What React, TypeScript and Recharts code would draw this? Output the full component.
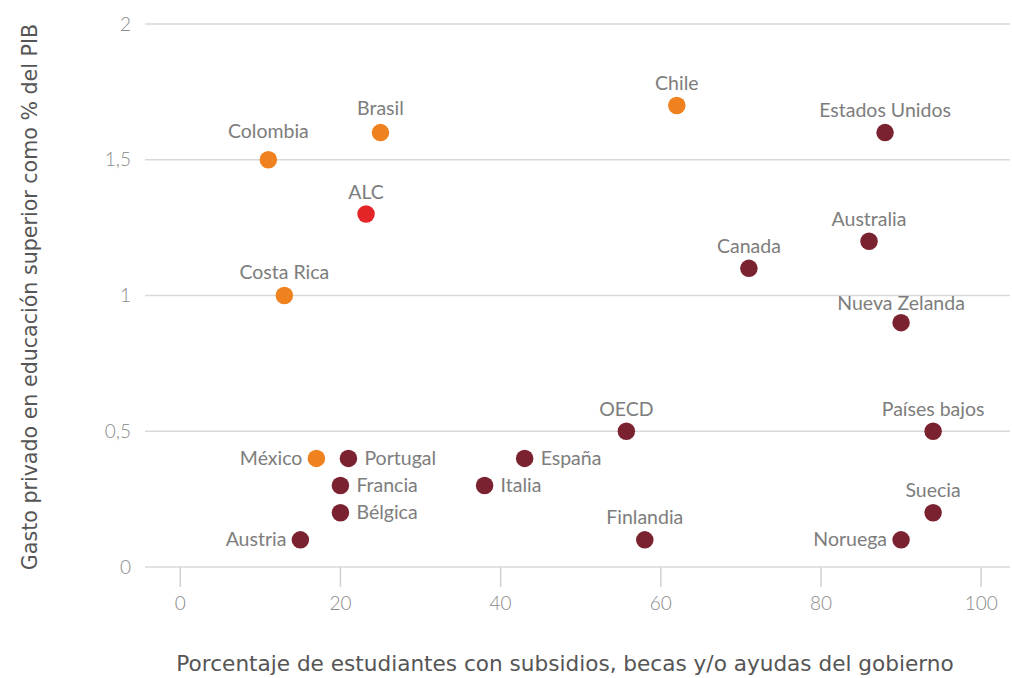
import React from 'react';
import { ScatterChart, Scatter, XAxis, YAxis, CartesianGrid, Cell } from 'recharts';

const countries = [
  'Colombia', 'Brasil', 'ALC', 'Costa Rica', 'Chile', 'Estados Unidos', 'Australia',
  'Canada', 'Nueva Zelanda', 'OECD', 'Países bajos', 'México', 'Portugal', 'España',
  'Francia', 'Italia', 'Bélgica', 'Austria', 'Finlandia', 'Suecia', 'Noruega',
];
const subsidyShare = [11, 25, 23.2, 13, 62, 88, 86, 71, 90, 55.7, 94, 17, 21, 43, 20, 38, 20, 15, 58, 94, 90];
const privateSpending = [1.5, 1.6, 1.3, 1.0, 1.7, 1.6, 1.2, 1.1, 0.9, 0.5, 0.5, 0.4, 0.4, 0.4, 0.3, 0.3, 0.2, 0.1, 0.1, 0.2, 0.1];
const groups = [
  'latam', 'latam', 'alc', 'latam', 'latam', 'oecd', 'oecd',
  'oecd', 'oecd', 'oecd', 'oecd', 'latam', 'oecd', 'oecd',
  'oecd', 'oecd', 'oecd', 'oecd', 'oecd', 'oecd', 'oecd',
];
const xTicks = [0, 20, 40, 60, 80, 100];
const yTicks = [0, 0.5, 1, 1.5, 2];

const xTitle = 'Porcentaje de estudiantes con subsidios, becas y/o ayudas del gobierno';
const yTitle = 'Gasto privado en educación superior como % del PIB';

const groupColors: Record<string, string> = {
  latam: '#F0811F',
  alc: '#E42527',
  oecd: '#7B2230',
};

const labelSide: Record<string, string> = {
  'México': 'left',
  Austria: 'left',
  Noruega: 'left',
  Portugal: 'right',
  'España': 'right',
  Francia: 'right',
  Italia: 'right',
  'Bélgica': 'right',
};

// distance of the label baseline above the dot centre, for labels placed on top
const labelLift: Record<string, number> = {
  Colombia: 22,
  Brasil: 18,
  'Costa Rica': 17,
  'Nueva Zelanda': 13,
};

const data = countries.map((name, i) => ({
  name,
  x: subsidyShare[i],
  y: privateSpending[i],
  group: groups[i],
}));

const LABEL_FONT = 'Lato, "Open Sans", sans-serif';
const TITLE_FONT = '"DejaVu Sans", "Open Sans", sans-serif';

const Dot = (props: any) => {
  const { cx, cy, payload } = props;
  const side = labelSide[payload.name] || 'top';
  const color = groupColors[payload.group];
  let tx = cx;
  let ty = cy - (labelLift[payload.name] ?? 15.5);
  let anchor: 'start' | 'middle' | 'end' = 'middle';
  if (side === 'left') {
    tx = cx - 14;
    ty = cy + 6.5;
    anchor = 'end';
  } else if (side === 'right') {
    tx = cx + 16;
    ty = cy + 6.5;
    anchor = 'start';
  }
  return (
    <g>
      <circle cx={cx} cy={cy} r={8.75} fill={color} />
      <text x={tx} y={ty} textAnchor={anchor} fill="#7d7d7d" fontSize={19.5} fontFamily={LABEL_FONT}>
        {payload.name}
      </text>
    </g>
  );
};

const fmt = (v: number) => String(v).replace('.', ',');

export default function App() {
  return (
    <div style={{ position: 'absolute', left: 0, top: 0, background: '#fff' }}>
      <ScatterChart width={1012} height={678} margin={{ top: 24, right: 2, bottom: 0, left: 0 }}>
        <CartesianGrid horizontal vertical={false} stroke="#d9d9d9" strokeWidth={1.5} />
        <XAxis
          type="number"
          dataKey="x"
          domain={[-4.4, 103.6]}
          ticks={xTicks}
          allowDataOverflow
          axisLine={false}
          tickLine={{ stroke: '#d0d0d0', strokeWidth: 1.5 }}
          tickSize={20}
          tickMargin={10}
          height={111}
          tick={{ fill: '#8a8a8a', fontSize: 19, fontFamily: LABEL_FONT, fontWeight: 300 }}
          label={{
            content: () => (
              <text
                x={565}
                y={671}
                textAnchor="middle"
                fill="#555555"
                fontSize={21.6}
                fontFamily={TITLE_FONT}
              >
                {xTitle}
              </text>
            ),
          }}
        />
        <YAxis
          type="number"
          dataKey="y"
          domain={[0, 2]}
          ticks={yTicks}
          allowDataOverflow
          axisLine={false}
          tickLine={false}
          tickSize={6}
          tickMargin={8}
          width={145}
          tickFormatter={fmt}
          tick={{ fill: '#8a8a8a', fontSize: 19, fontFamily: LABEL_FONT, fontWeight: 300 }}
          label={{
            content: () => (
              <text
                x={30}
                y={297}
                transform="rotate(-90 30 297)"
                textAnchor="middle"
                dominantBaseline="central"
                fill="#555555"
                fontSize={20.6}
                fontFamily={TITLE_FONT}
              >
                {yTitle}
              </text>
            ),
          }}
        />
        <Scatter data={data} isAnimationActive={false} shape={Dot}>
          {data.map((d, i) => (
            <Cell key={i} fill={groupColors[d.group]} />
          ))}
        </Scatter>
      </ScatterChart>
    </div>
  );
}
